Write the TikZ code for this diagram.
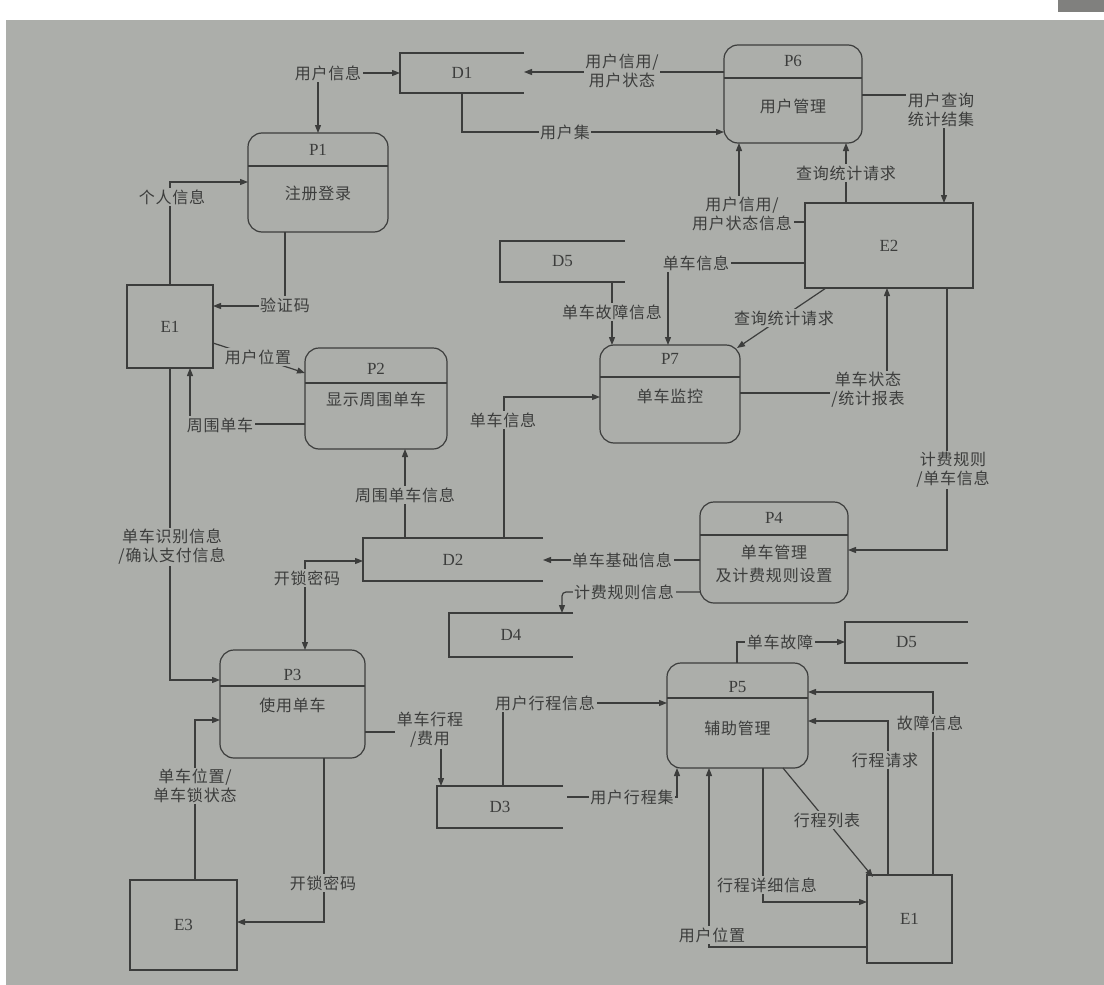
\documentclass[tikz,border=0pt]{standalone}
\usepackage{fontspec}
\setmainfont{Liberation Serif}
\newfontfamily\cjk[LetterSpace=5]{Noto Sans CJK SC}
\usetikzlibrary{arrows.meta,calc}
\definecolor{bg}{RGB}{172,174,170}
\definecolor{ink}{RGB}{60,61,60}
\definecolor{cornergray}{RGB}{128,128,126}
\tikzset{
 arr/.style={draw=ink, line width=1.2pt, -{Triangle[length=8pt,width=6pt]}},
 arrb/.style={draw=ink, line width=1.2pt, {Triangle[length=8pt,width=6pt]}-{Triangle[length=8pt,width=6pt]}},
 plain/.style={draw=ink, line width=1.2pt},
 proc/.style={draw=ink, line width=1.2pt, rounded corners=14pt, inner sep=0pt, outer sep=0pt},
 store/.style={inner sep=0pt, outer sep=0pt, font=\fontsize{17}{17}\selectfont, text=ink},
 ext/.style={draw=ink, line width=1.2pt, inner sep=0pt, outer sep=0pt, font=\fontsize{17}{17}\selectfont, text=ink},
 pid/.style={font=\fontsize{17}{17}\selectfont, text=ink, inner sep=0pt},
 pname/.style={font=\cjk\fontsize{16}{23}\selectfont, text=ink, align=center, inner sep=0pt},
 lab/.style={font=\cjk\fontsize{16}{19}\selectfont, text=ink, fill=bg, align=center, inner sep=1.5pt},
}
\begin{document}
\begin{tikzpicture}[x=1pt,y=-1pt]
\useasboundingbox (0,0) rectangle (1104,985);
\fill[white] (0,0) rectangle (1104,985);
\fill[bg] (6,20) rectangle (1104,985);
\fill[cornergray] (1058,0) rectangle (1104,12);

% ---------- data stores ----------
\node[store, minimum width=124pt, minimum height=40pt] (D1) at (462,73) {D1};
\node[store, minimum width=125pt, minimum height=41pt] (D5a) at (562.5,261.5) {D5};
\node[store, minimum width=180pt, minimum height=43pt] (D2) at (453,559.5) {D2};
\node[store, minimum width=124pt, minimum height=44pt] (D4) at (511,635) {D4};
\node[store, minimum width=123pt, minimum height=41pt] (D5b) at (906.5,642.5) {D5};
\node[store, minimum width=126pt, minimum height=42pt] (D3) at (500,807) {D3};
\foreach \d in {D1,D5a,D2,D4,D5b,D3}
  \draw[plain] (\d.north east) -- (\d.north west) -- (\d.south west) -- (\d.south east);

% ---------- external entities ----------
\node[ext, minimum width=86pt, minimum height=83pt] (E1) at (170,326.5) {E1};
\node[ext, minimum width=168pt, minimum height=85pt] (E2) at (889,245.5) {E2};
\node[ext, minimum width=107pt, minimum height=90pt] (E3) at (183.5,925) {E3};
\node[ext, minimum width=85pt, minimum height=88pt] (E1b) at (909.5,919) {E1};

% ---------- processes ----------
\node[proc, minimum width=138pt, minimum height=98pt] (P6) at (793,94) {};
\node[proc, minimum width=140pt, minimum height=99pt] (P1) at (318,182.5) {};
\node[proc, minimum width=142pt, minimum height=101pt] (P2) at (376,398.5) {};
\node[proc, minimum width=140pt, minimum height=98pt] (P7) at (670,394) {};
\node[proc, minimum width=148pt, minimum height=101pt] (P4) at (774,552.5) {};
\node[proc, minimum width=145pt, minimum height=108pt] (P3) at (292.5,704) {};
\node[proc, minimum width=141pt, minimum height=105pt] (P5) at (737.5,715.5) {};

\draw[plain] (P6.west |- 0,78) -- (P6.east |- 0,78);
\draw[plain] (P1.west |- 0,166) -- (P1.east |- 0,166);
\draw[plain] (P2.west |- 0,383) -- (P2.east |- 0,383);
\draw[plain] (P7.west |- 0,377) -- (P7.east |- 0,377);
\draw[plain] (P4.west |- 0,535) -- (P4.east |- 0,535);
\draw[plain] (P3.west |- 0,686) -- (P3.east |- 0,686);
\draw[plain] (P5.west |- 0,698) -- (P5.east |- 0,698);

\node[pid] (P6i) at (P6.center |- 0,61) {P6};
\node[pname] (P6n) at (P6.center |- 0,106) {用户管理};
\node[pid] (P1i) at (P1.center |- 0,150) {P1};
\node[pname] (P1n) at (P1.center |- 0,193) {注册登录};
\node[pid] (P2i) at (P2.center |- 0,369) {P2};
\node[pname] (P2n) at (P2.center |- 0,399) {显示周围单车};
\node[pid] (P7i) at (P7.center |- 0,359) {P7};
\node[pname] (P7n) at (P7.center |- 0,396) {单车监控};
\node[pid] (P4i) at (P4.center |- 0,518) {P4};
\node[pname] (P4n) at (P4.center |- 0,564) {单车管理\\及计费规则设置};
\node[pid] (P3i) at (P3.center |- 0,675) {P3};
\node[pname] (P3n) at (P3.center |- 0,705) {使用单车};
\node[pid] (P5i) at (P5.center |- 0,687) {P5};
\node[pname] (P5n) at (P5.center |- 0,728) {辅助管理};

% ---------- connectors ----------
\coordinate (uj) at (318,73);
\draw[arr] (uj) -- (D1.west);
\draw[arr] (uj) -- (uj |- P1.north);
\draw[arr] (P6.west |- 0,72) -- (D1.east |- 0,72);
\draw[arr] (D1.south) |- (P6.west |- 0,132);
\draw[arr] (P6.east |- 0,95) -| (944,0 |- E2.north);
\draw[arr] (E2.north -| 846,0) -- (846,0 |- P6.south);
\draw[arr] (E2.west |- 0,222) -| (739,0 |- P6.south);
\draw[arr] (E2.west |- 0,263) -| (668,0 |- P7.north);
\draw[arr] (D5a.south -| 612,0) -- (612,0 |- P7.north);
\draw[arr] (E2.south -| 826,0) -- ($(P7.north east)+(-3,3)$);
\draw[arr] (P7.east |- 0,393) -| (887,0 |- E2.south);
\draw[arr] (E2.south -| 947,0) |- (P4.east |- 0,550);
\draw[arr] (P4.west |- 0,560) -- (D2.east |- 0,560);
\draw[arr, rounded corners=4pt] (P4.west |- 0,592) -| (562,0 |- D4.north);
\draw[arr] (D2.north -| 504,0) |- (P7.west |- 0,397);
\draw[arr] (D2.north -| 405,0) -- (405,0 |- P2.south);
\draw[arr] (P2.west |- 0,424) -| (190,0 |- E1.south);
\draw[arr] (E1.east |- 0,343) -- (P2.west |- 0,373);
\draw[arr] (P1.south -| 285,0) |- (E1.east |- 0,306);
\draw[arr] (E1.north -| 170,0) |- (P1.west |- 0,182);
\draw[arr] (E1.south -| 170,0) |- (P3.west |- 0,680);
\draw[arrb] (D2.west |- 0,561) -| (305,0 |- P3.north);
\draw[arr] (E3.north -| 195,0) |- (P3.west |- 0,720);
\draw[arr] (P3.south -| 324,0) |- (E3.east |- 0,922);
\draw[arr] (P3.east |- 0,732) -| (441,0 |- D3.north);
\draw[arr] (D3.north -| 503,0) |- (P5.west |- 0,703);
\draw[arr] ($(D3.east |- 0,797)+(4,0)$) -| (677,0 |- P5.south);
\draw[arr] (P5.north -| 737,0) |- (D5b.west |- 0,642);
\draw[arr] (E1b.north -| 933,0) |- (P5.east |- 0,692);
\draw[arr] (E1b.north -| 888,0) |- (P5.east |- 0,721);
\draw[arr] (P5.south -| 783,0) -- ($(E1b.north west)+(6,2)$);
\draw[arr] (P5.south -| 763,0) |- (E1b.west |- 0,902);
\draw[arr] (E1b.west |- 0,947) -| (709,0 |- P5.south);

% ---------- labels ----------
\node[lab] (l1) at (328,73) {用户信息};
\node[lab] (l2) at (622,71) {用户信用/\\用户状态};
\node[lab] (l3) at (565,132) {用户集};
\node[lab] (l4) at (941,110) {用户查询\\统计结集};
\node[lab] (l5) at (846,173) {查询统计请求};
\node[lab] (l6) at (742,214) {用户信用/\\用户状态信息};
\node[lab] (l7) at (696,263) {单车信息};
\node[lab] (l8) at (612,312) {单车故障信息};
\node[lab] (l9) at (784,318) {查询统计请求};
\node[lab] (l10) at (868,390) {单车状态\\/统计报表};
\node[lab] (l11) at (953,470) {计费规则\\/单车信息};
\node[lab] (l12) at (622,560) {单车基础信息};
\node[lab] (l13) at (624,592) {计费规则信息};
\node[lab] (l14) at (503,420) {单车信息};
\node[lab] (l15) at (405,495) {周围单车信息};
\node[lab] (l16) at (220,425) {周围单车};
\node[lab] (l17) at (258,357) {用户位置};
\node[lab] (l18) at (285,305) {验证码};
\node[lab] (l19) at (172,197) {个人信息};
\node[lab] (l20) at (172,547) {单车识别信息\\/确认支付信息};
\node[lab] (l21) at (307,578) {开锁密码};
\node[lab] (l22) at (195,786) {单车位置/\\单车锁状态};
\node[lab] (l23) at (323,883) {开锁密码};
\node[lab] (l24) at (430,730) {单车行程\\/费用};
\node[lab] (l25) at (545,703) {用户行程信息};
\node[lab] (l26) at (632,797) {用户行程集};
\node[lab] (l27) at (780,642) {单车故障};
\node[lab] (l28) at (930,723) {故障信息};
\node[lab] (l29) at (885,760) {行程请求};
\node[lab] (l30) at (827,820) {行程列表};
\node[lab] (l31) at (767,885) {行程详细信息};
\node[lab] (l32) at (712,935) {用户位置};
\end{tikzpicture}
\end{document}
